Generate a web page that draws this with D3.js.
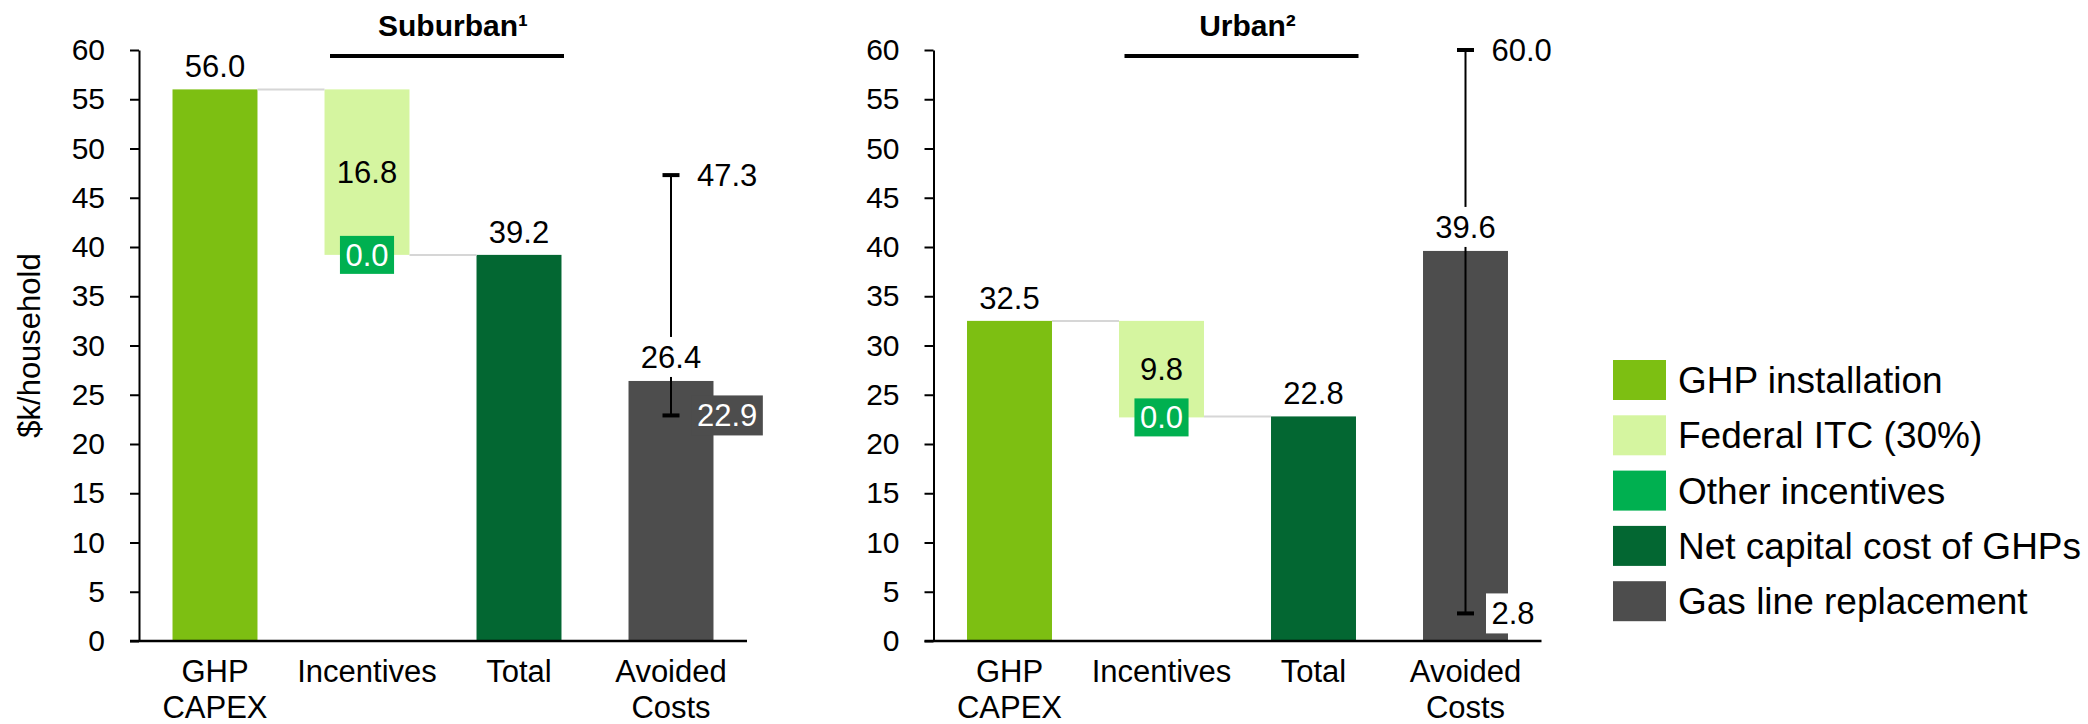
<!DOCTYPE html>
<html>
<head>
<meta charset="utf-8">
<script src="https://cdn.jsdelivr.net/npm/d3@7"></script>
<style>
  html, body { margin: 0; padding: 0; background: #fff; }
  svg { display: block; font-family: "Liberation Sans", Arial, sans-serif; }
</style>
</head>
<body>
<svg id="chart" width="2088" height="724"></svg>
<script>
// ---------- data ----------
const categories = ["GHP CAPEX", "Incentives", "Total", "Avoided Costs"];
const categoryLines = [["GHP", "CAPEX"], ["Incentives"], ["Total"], ["Avoided", "Costs"]];
const panelTitles = ["Suburban¹", "Urban²"];
const ghpCapex = [56.0, 32.5];
const federalITC = [16.8, 9.8];
const otherIncentives = [0.0, 0.0];
const netCapital = [39.2, 22.8];
const gasLine = [26.4, 39.6];
const gasLineLow = [22.9, 2.8];
const gasLineHigh = [47.3, 60.0];
const yTicks = [0, 5, 10, 15, 20, 25, 30, 35, 40, 45, 50, 55, 60];
const yLabel = "$k/household";
const seriesNames = ["GHP installation", "Federal ITC (30%)", "Other incentives", "Net capital cost of GHPs", "Gas line replacement"];

// ---------- styles ----------
const seriesColors = ["#7dbf12", "#d5f5a0", "#00b050", "#036732", "#4d4d4d"];
const lowLabelFill = ["#4d4d4d", "#ffffff"];
const lowLabelText = ["#ffffff", "#000000"];

const svg = d3.select("#chart");
const panelX = [139, 933.5];
const plotW = 608;
const yTop = 50, yBottom = 641;
const y = d3.scaleLinear().domain([0, 60]).range([yBottom, yTop]);
const x = d3.scaleBand().domain(categories).range([0, plotW]).paddingInner(0.441).paddingOuter(0.2205);
const bw = x.bandwidth();
const fmt = d3.format(".1f");

function boxedLabel(g, cx, cy, txt, opts) {
  const grp = g.append("g");
  const t = grp.append("text")
    .attr("x", cx).attr("y", cy).attr("dy", "0.35em")
    .attr("text-anchor", opts.anchor || "middle")
    .attr("font-size", 31)
    .attr("fill", opts.color || "#000")
    .text(txt);
  if (opts.fill) {
    const bb = t.node().getBBox();
    grp.insert("rect", "text")
      .attr("x", bb.x - 5.5).attr("width", bb.width + 11)
      .attr("y", cy - (opts.h || 40) / 2).attr("height", opts.h || 40)
      .attr("fill", opts.fill);
  }
  return grp;
}

panelTitles.forEach((title, p) => {
  const g = svg.append("g").attr("transform", `translate(${panelX[p]},0)`);
  const cx = c => x(c) + bw / 2;

  // bars
  const capex = ghpCapex[p], itc = federalITC[p], other = otherIncentives[p], total = netCapital[p], gas = gasLine[p];
  const itcBottom = capex - itc;
  g.append("rect").attr("x", x(categories[0])).attr("width", bw)
    .attr("y", y(capex)).attr("height", y(0) - y(capex)).attr("fill", seriesColors[0]);
  g.append("rect").attr("x", x(categories[1])).attr("width", bw)
    .attr("y", y(capex)).attr("height", y(itcBottom) - y(capex)).attr("fill", seriesColors[1]);
  g.append("rect").attr("x", x(categories[2])).attr("width", bw)
    .attr("y", y(total)).attr("height", y(0) - y(total)).attr("fill", seriesColors[3]);
  g.append("rect").attr("x", x(categories[3])).attr("width", bw)
    .attr("y", y(gas)).attr("height", y(0) - y(gas)).attr("fill", seriesColors[4]);

  // connectors
  g.append("line").attr("x1", x(categories[0]) + bw).attr("x2", x(categories[1]))
    .attr("y1", y(capex)).attr("y2", y(capex)).attr("stroke", "#d6d6d6").attr("stroke-width", 2);
  g.append("line").attr("x1", x(categories[1]) + bw).attr("x2", x(categories[2]))
    .attr("y1", y(total)).attr("y2", y(total)).attr("stroke", "#d6d6d6").attr("stroke-width", 2);

  // axes
  const yAxis = d3.axisLeft(y).tickValues(yTicks).tickSize(9).tickSizeOuter(0).tickPadding(25);
  const ya = g.append("g").call(yAxis);
  ya.selectAll("path, line").attr("stroke", "#000").attr("stroke-width", 2);
  ya.selectAll("text").attr("font-size", 30).attr("fill", "#000")
    .attr("font-family", "Liberation Sans, Arial, sans-serif");

  const xAxis = d3.axisBottom(x).tickSize(0).tickSizeOuter(0).tickFormat("");
  const xa = g.append("g").attr("transform", `translate(0,${y(0)})`).call(xAxis);
  xa.select(".domain").remove();
  g.append("line").attr("x1", -9).attr("x2", plotW).attr("y1", y(0)).attr("y2", y(0))
    .attr("stroke", "#000").attr("stroke-width", 2.5);
  xa.selectAll(".tick").each(function(d, i) {
    const t = d3.select(this).append("text").attr("text-anchor", "middle")
      .attr("font-size", 31).attr("fill", "#000");
    categoryLines[i].forEach((ln, k) => {
      t.append("tspan").attr("x", 0).attr("y", 41 + k * 36).text(ln);
    });
  });

  // error bar
  const ex = cx(categories[3]);
  g.append("line").attr("x1", ex).attr("x2", ex)
    .attr("y1", y(gasLineHigh[p])).attr("y2", y(gasLineLow[p]))
    .attr("stroke", "#000").attr("stroke-width", 2);
  [gasLineHigh[p], gasLineLow[p]].forEach(v => {
    g.append("line").attr("x1", ex - 8.5).attr("x2", ex + 8.5)
      .attr("y1", y(v)).attr("y2", y(v)).attr("stroke", "#000").attr("stroke-width", 4);
  });

  // data labels
  boxedLabel(g, cx(categories[0]), y(capex) - 23, fmt(capex), {});
  boxedLabel(g, cx(categories[1]), y((capex + itcBottom) / 2), fmt(itc), {});
  boxedLabel(g, cx(categories[1]), y(itcBottom - other), fmt(other), { fill: seriesColors[2], color: "#fff", h: 38 });
  boxedLabel(g, cx(categories[2]), y(total) - 23, fmt(total), {});
  boxedLabel(g, ex, y(gas) - 24, fmt(gas), { fill: "#fff" });
  boxedLabel(g, ex + 26, y(gasLineHigh[p]), fmt(gasLineHigh[p]), { anchor: "start", fill: "#fff" });
  boxedLabel(g, ex + 26, y(gasLineLow[p]), fmt(gasLineLow[p]), { anchor: "start", fill: lowLabelFill[p], color: lowLabelText[p] });

  // panel title
  g.append("line").attr("x1", 191).attr("x2", 425).attr("y1", 56).attr("y2", 56)
    .attr("stroke", "#000").attr("stroke-width", 4);
  g.append("text").attr("x", 314).attr("y", 36).attr("text-anchor", "middle")
    .attr("font-size", 30).attr("font-weight", "bold").attr("fill", "#000").text(title);

  // y-axis title (left panel only)
  if (p === 0) {
    svg.append("text").attr("transform", `translate(29,${(yTop + yBottom) / 2}) rotate(-90)`)
      .attr("text-anchor", "middle").attr("dy", "0.35em")
      .attr("font-size", 31).attr("fill", "#000").text(yLabel);
  }
});

// legend
const lg = svg.append("g").attr("transform", "translate(1613,360)");
seriesNames.forEach((name, i) => {
  const row = lg.append("g").attr("transform", `translate(0,${i * 55.3})`);
  row.append("rect").attr("width", 53).attr("height", 40).attr("fill", seriesColors[i]);
  row.append("text").attr("x", 65).attr("y", 20).attr("dy", "0.35em")
    .attr("font-size", 37).attr("fill", "#000").text(name);
});
</script>
</body>
</html>
